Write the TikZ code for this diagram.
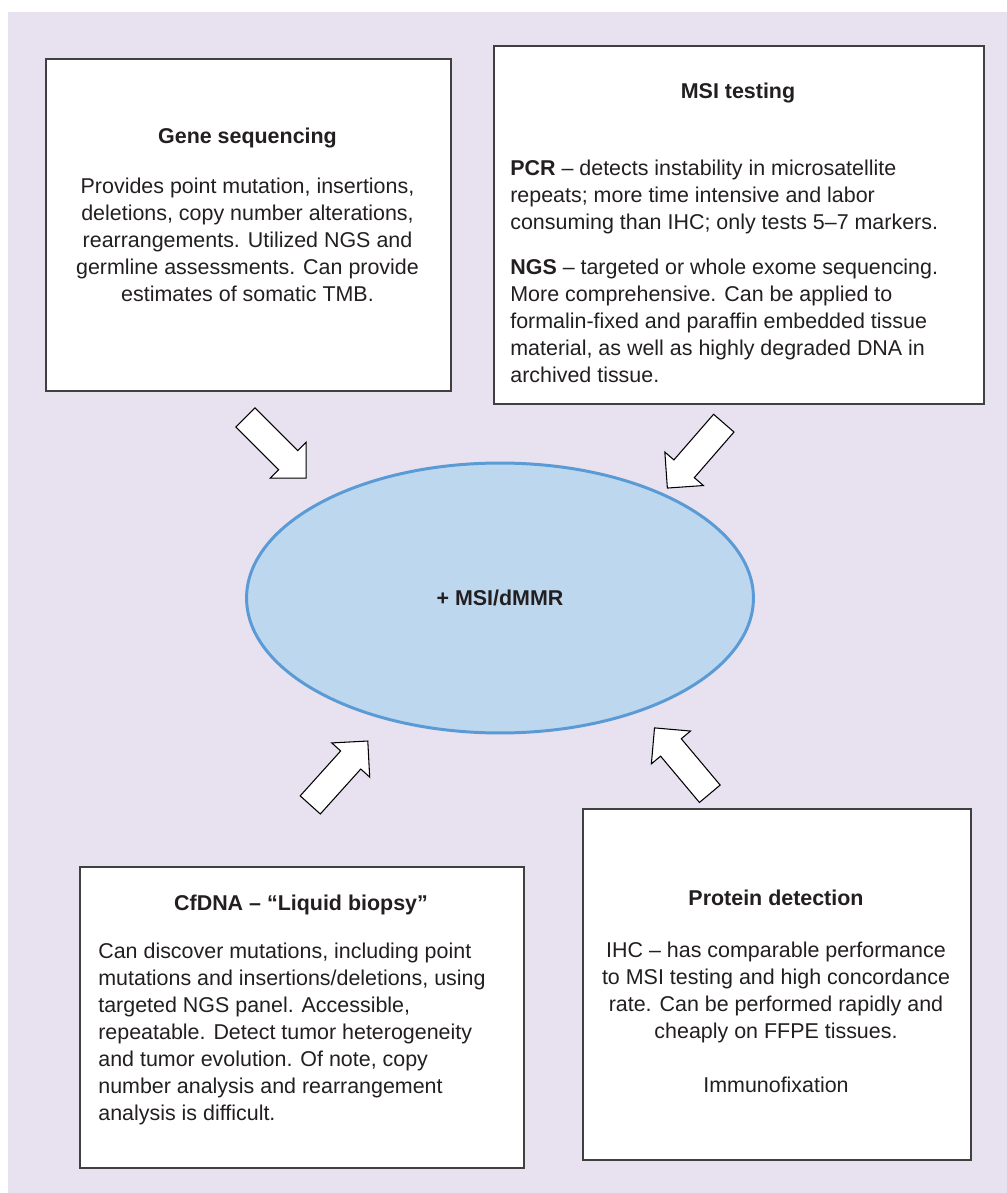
\documentclass[tikz,border=0pt]{standalone}
\usepackage{fontspec}
\setmainfont{Liberation Sans}
\usepackage{xcolor}
\usetikzlibrary{shapes.geometric,shapes.arrows,positioning}

\definecolor{bglav}{RGB}{231,225,240}
\definecolor{ovalfill}{RGB}{189,215,238}
\definecolor{ovaldraw}{RGB}{91,155,213}
\definecolor{boxline}{RGB}{64,64,64}
\definecolor{inktext}{RGB}{35,31,32}
\newcommand{\bodyfont}{\fontsize{12.2pt}{15.3pt}\selectfont}

\begin{document}
\begin{tikzpicture}[
  x=0.02cm, y=-0.02cm,
  panel/.style={draw=boxline, line width=1.3pt, fill=white, inner sep=0pt},
  oval/.style={ellipse, draw=ovaldraw, line width=1.7pt, fill=ovalfill,
    inner sep=0pt, font=\bodyfont\bfseries, text=inktext},
  title/.style={font=\bodyfont\bfseries, text=inktext, inner sep=0pt, anchor=base},
  txt/.style={font=\bodyfont, text=inktext, inner sep=0pt, anchor=north},
  fatarrow/.style={single arrow, draw=black, fill=white, line width=0.6pt,
    inner xsep=0pt, inner ysep=0.26cm, minimum height=1.72cm,
    single arrow head extend=0.24cm, single arrow tip angle=90}
]
  \useasboundingbox (0,0) rectangle (1007,1193);
  \fill[bglav] (8,12) rectangle (1007,1193);

  % the four boxes
  \node[panel, anchor=north west, minimum width=8.1cm, minimum height=6.64cm] (gene) at (45,58) {};
  \node[panel, anchor=north west, minimum width=9.8cm, minimum height=7.16cm] (msitest) at (493,45) {};
  \node[panel, anchor=north west, minimum width=8.88cm, minimum height=6.02cm] (cfdna) at (79,866) {};
  \node[panel, anchor=north west, minimum width=7.76cm, minimum height=7.02cm] (protein) at (582,808) {};

  % centre
  \node[oval, minimum width=10.14cm, minimum height=5.4cm] (status) at (500,598) {+ MSI/dMMR};

  % block arrows
  \node[fatarrow, rotate=-45] (arrGene) at (271,443) {};
  \node[fatarrow, rotate=229] (arrMsi) at (700,450.5) {};
  \node[fatarrow, rotate=48] (arrCf) at (334.5,778) {};
  \node[fatarrow, rotate=130] (arrProt) at (686.5,766) {};

  % texts
  \node[title] (geneT) at (247.5,143) {Gene sequencing};
  \node[txt, align=center] (geneB) at (247.5,178) {Provides point mutation, insertions,\\
    deletions, copy number alterations,\\ rearrangements. Utilized NGS and\\
    germline assessments. Can provide\\ estimates of somatic TMB.};

  \node[title] (msiT) at (738,99) {MSI testing};
  \node[txt, align=left, anchor=north west] (msiPcr) at (510,160) {\textbf{PCR} – detects instability in microsatellite\\
    repeats; more time intensive and labor\\ consuming than IHC; only tests 5–7 markers.};
  \node[txt, align=left, anchor=north west] (msiNgs) at (510,259) {\textbf{NGS} – targeted or whole exome sequencing.\\
    More comprehensive. Can be applied to\\ formalin-fixed and paraffin embedded tissue\\
    material, as well as highly degraded DNA in\\ archived tissue.};

  \node[title] (cfT) at (301,910) {CfDNA – “Liquid biopsy”};
  \node[txt, align=left, anchor=north west] (cfB) at (98,943) {Can discover mutations, including point\\
    mutations and insertions/deletions, using\\ targeted NGS panel. Accessible,\\
    repeatable. Detect tumor heterogeneity\\ and tumor evolution. Of note, copy\\
    number analysis and rearrangement\\ analysis is difficult.};

  \node[title] (protT) at (776,905) {Protein detection};
  \node[txt, align=center] (protB) at (776,942) {IHC – has comparable performance\\
    to MSI testing and high concordance\\ rate. Can be performed rapidly and\\
    cheaply on FFPE tissues.\\[15.3pt] Immunofixation};
\end{tikzpicture}
\end{document}
